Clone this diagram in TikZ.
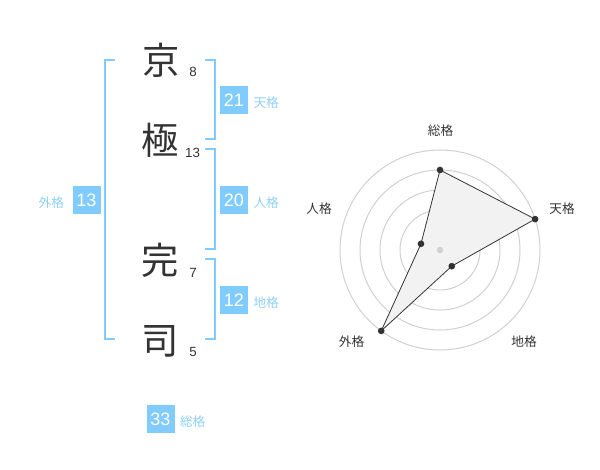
\documentclass[tikz,border=0pt]{standalone}
\usepackage{fontspec}
\setmainfont{Liberation Sans}
\newfontfamily\jpfont{Noto Sans CJK JP}
\usetikzlibrary{positioning, calc}

\definecolor{boxblue}{HTML}{80CCFF}
\definecolor{lblblue}{HTML}{8ED0F8}
\definecolor{inkgray}{HTML}{333333}
\definecolor{ringgray}{HTML}{D0D0D0}
\definecolor{areagray}{HTML}{F2F2F2}

\tikzset{
  kanji/.style={font=\jpfont\fontsize{28}{28}\selectfont, text=inkgray, inner sep=0pt},
  strokes/.style={font=\fontsize{10}{10}\selectfont, text=inkgray, inner sep=0pt},
  scorebox/.style={fill=boxblue, text=white, minimum width=21pt, minimum height=21pt, inner sep=0pt, font=\fontsize{13.5}{13.5}\selectfont},
  scorelbl/.style={font=\jpfont\fontsize{9.5}{9.5}\selectfont, text=lblblue, inner sep=0pt},
  bracket/.style={draw=boxblue, line width=1.5pt},
  ring/.style={draw=ringgray, line width=0.75pt},
  axislbl/.style={font=\jpfont\fontsize{9.5}{9.5}\selectfont, text=inkgray, inner sep=0pt},
  dot/.style={circle, fill=inkgray, inner sep=0pt, minimum size=5pt}
}

\begin{document}
\begin{tikzpicture}[x=0.75pt, y=-0.75pt]
\useasboundingbox (0,0) rectangle (600,470);

% name column
\node[kanji] (kyo) at (161,60) {京};
\node[kanji] (goku) at (160,140) {極};
\node[kanji] (kan) at (160,260) {完};
\node[kanji] (shi) at (160,341) {司};
\node[strokes] (n8) at (193,72) {8};
\node[strokes] (n13) at (192.5,153) {13};
\node[strokes] (n7) at (193,272.5) {7};
\node[strokes] (n5) at (193,352) {5};

% brackets
\draw[bracket] (115,60) -- (105,60) -- (105,339) -- (115,339);
\draw[bracket] (205,60) -- (215,60) -- (215,139) -- (205,139);
\draw[bracket] (205,149) -- (215,149) -- (215,249) -- (205,249);
\draw[bracket] (205,259) -- (215,259) -- (215,339) -- (205,339);

% scores
\node[scorebox] (ten) at (234,100.5) {21};
\node[scorelbl, right=3.75pt of ten, yshift=-2pt] (tenlbl) {天格};
\node[scorebox] (jin) at (234,200) {20};
\node[scorelbl, right=3.75pt of jin, yshift=-2pt] (jinlbl) {人格};
\node[scorebox] (chi) at (234,300.5) {12};
\node[scorelbl, right=3.75pt of chi, yshift=-2pt] (chilbl) {地格};
\node[scorebox] (gai) at (86.5,200) {13};
\node[scorelbl, left=6pt of gai, yshift=-2pt] (gailbl) {外格};
\node[scorebox] (so) at (160.5,419) {33};
\node[scorelbl, right=3.75pt of so, yshift=-2pt] (solbl) {総格};

% radar
\coordinate (c) at (440,250);
\draw[ring] (c) circle (15pt);
\draw[ring] (c) circle (30pt);
\draw[ring] (c) circle (45pt);
\draw[ring] (c) circle (60pt);
\draw[ring] (c) circle (75pt);

\coordinate (pso) at ($(c)+(90:60pt)$);
\coordinate (pten) at ($(c)+(18:75pt)$);
\coordinate (pchi) at ($(c)+(-54:15pt)$);
\coordinate (pgai) at ($(c)+(-126:75pt)$);
\coordinate (pjin) at ($(c)+(162:15pt)$);

\filldraw[fill=areagray, draw=inkgray, line width=0.6pt] (pso) -- (pten) -- (pchi) -- (pgai) -- (pjin) -- cycle;
\fill[ringgray] (c) circle (2.4pt);
\node[dot] (dso) at (pso) {};
\node[dot] (dten) at (pten) {};
\node[dot] (dchi) at (pchi) {};
\node[dot] (dgai) at (pgai) {};
\node[dot] (djin) at (pjin) {};

\node[axislbl] (aso) at (440.5,131) {総格};
\node[axislbl] (aten) at (562,209) {天格};
\node[axislbl] (achi) at (524,341.5) {地格};
\node[axislbl] (agai) at (351.5,341.5) {外格};
\node[axislbl] (ajin) at (319,209) {人格};
\end{tikzpicture}
\end{document}
